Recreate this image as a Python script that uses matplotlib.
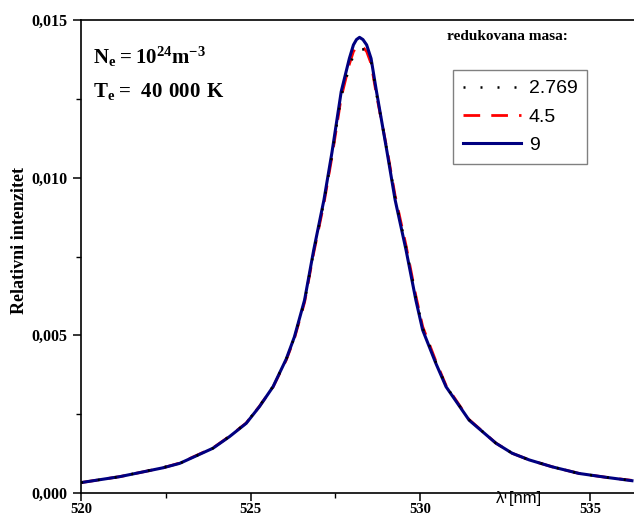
import numpy as np
import matplotlib.pyplot as plt
from matplotlib.ticker import MultipleLocator, FuncFormatter

plt.rcParams['mathtext.fontset'] = 'custom'
plt.rcParams['mathtext.rm'] = 'Liberation Serif'
plt.rcParams['mathtext.bf'] = 'Liberation Serif:bold'

# Podaci ocitani sa slike
lam = [520.00, 521.15, 522.42, 522.91, 523.89, 524.38, 524.87, 525.26, 525.66, 526.05,
       526.29, 526.59, 526.86, 527.16, 527.40, 527.67, 527.91, 528.03, 528.12, 528.21,
       528.31, 528.42, 528.55, 528.71, 529.02, 529.26, 529.58, 529.87, 530.07, 530.46,
       530.76, 531.44, 532.23, 532.71, 533.21, 533.89, 534.68, 535.46, 536.24]

# redukovana masa 9
I_9 = [0.00033, 0.00052, 0.00080, 0.00094, 0.00142, 0.00179, 0.00221, 0.00274, 0.00337, 0.00425,
       0.00495, 0.00612, 0.00771, 0.00929, 0.01082, 0.01273, 0.01378, 0.01421, 0.01438, 0.01445,
       0.01438, 0.01421, 0.01378, 0.01273, 0.01082, 0.00929, 0.00771, 0.00612, 0.00517, 0.00411,
       0.00337, 0.00231, 0.00158, 0.00126, 0.00105, 0.00083, 0.00062, 0.00050, 0.00039]

# redukovana masa 4.5
I_45 = [0.00033, 0.00052, 0.00080, 0.00095, 0.00143, 0.00180, 0.00222, 0.00275, 0.00336, 0.00422,
        0.00490, 0.00605, 0.00762, 0.00918, 0.01068, 0.01255, 0.01360, 0.01400, 0.01414, 0.01418,
        0.01414, 0.01400, 0.01362, 0.01262, 0.01090, 0.00942, 0.00785, 0.00625, 0.00528, 0.00418,
        0.00341, 0.00233, 0.00158, 0.00126, 0.00105, 0.00083, 0.00062, 0.00050, 0.00040]

# redukovana masa 2.769
I_2769 = [0.00033, 0.00052, 0.00081, 0.00094, 0.00142, 0.00180, 0.00222, 0.00276, 0.00338, 0.00424,
          0.00493, 0.00608, 0.00766, 0.00922, 0.01072, 0.01258, 0.01350, 0.01388, 0.01402, 0.01408,
          0.01407, 0.01402, 0.01368, 0.01265, 0.01086, 0.00936, 0.00780, 0.00620, 0.00524, 0.00415,
          0.00339, 0.00232, 0.00158, 0.00126, 0.00105, 0.00083, 0.00062, 0.00050, 0.00039]

labels = ['2.769', '4.5', '9']

fig = plt.figure(figsize=(6.34, 5.19), dpi=100)
ax = fig.add_axes([81/634, 26/519, 1 - 81/634, 473/519])

ax.plot(lam, I_45, color='#ff0000', lw=2.0, dashes=(6, 4), label=labels[1], zorder=2)
ax.plot(lam, I_9, color='#000080', lw=2.2, label=labels[2], zorder=3)
ax.plot(lam, I_2769, color='black', lw=1.8, dashes=(0.8, 6), label=labels[0], zorder=4)

ax.set_xlim(520, 536.3)
ax.set_ylim(0, 0.015)
ax.spines['right'].set_visible(False)
for s in ['left', 'bottom', 'top']:
    ax.spines[s].set_linewidth(1.2)

ax.xaxis.set_major_locator(MultipleLocator(5))
ax.xaxis.set_minor_locator(MultipleLocator(2.5))
ax.yaxis.set_major_locator(MultipleLocator(0.005))
ax.yaxis.set_minor_locator(MultipleLocator(0.0025))
ax.yaxis.set_major_formatter(FuncFormatter(lambda v, p: f'{v:.3f}'.replace('.', ',')))
ax.tick_params(which='major', direction='out', length=6, width=1.1, top=False, right=False)
ax.tick_params(which='minor', direction='out', length=3.5, width=1.0, top=False, right=False)
ax.tick_params(axis='x', which='major', pad=1.5)
for t in ax.get_yticklabels():
    t.set_fontfamily('Liberation Serif')
    t.set_fontweight('bold')
    t.set_fontsize(11.5)
for t in ax.get_xticklabels():
    t.set_fontfamily('Liberation Serif')
    t.set_fontweight('bold')
    t.set_fontsize(10.5)

fig.text(20/634, 1 - 240/519, 'Relativni intenzitet', rotation=90, ha='center', va='center',
         family='Liberation Serif', weight='bold', fontsize=13)
fig.text(519/634, 1 - 498/519, 'λ [nm]', ha='center', va='center',
         family='Liberation Sans', fontsize=12)

fig.text(93/634, 1 - 64/519, r'$\mathbf{N_e = 10^{24}m^{-3}}$', fontsize=15)
fig.text(93/634, 1 - 97/519, r'$\mathbf{T_e{=}\ 40\ 000\ K}$', fontsize=15)
fig.text(447/634, 1 - 40/519, 'redukovana masa:', family='Liberation Serif',
         weight='bold', fontsize=11)

h, l = ax.get_legend_handles_labels()
order = [2, 0, 1]
leg = fig.legend([h[i] for i in order], [l[i] for i in order], loc='upper left',
                 bbox_to_anchor=(453/634, 1 - 70/519), borderaxespad=0,
                 prop={'family': 'Liberation Sans', 'size': 14}, handlelength=3.0,
                 labelspacing=0.55, handletextpad=0.4, fancybox=False, framealpha=1,
                 edgecolor='#808080', borderpad=0.5)
leg.get_frame().set_linewidth(1.0)

fig.savefig('out.png', dpi=100)
